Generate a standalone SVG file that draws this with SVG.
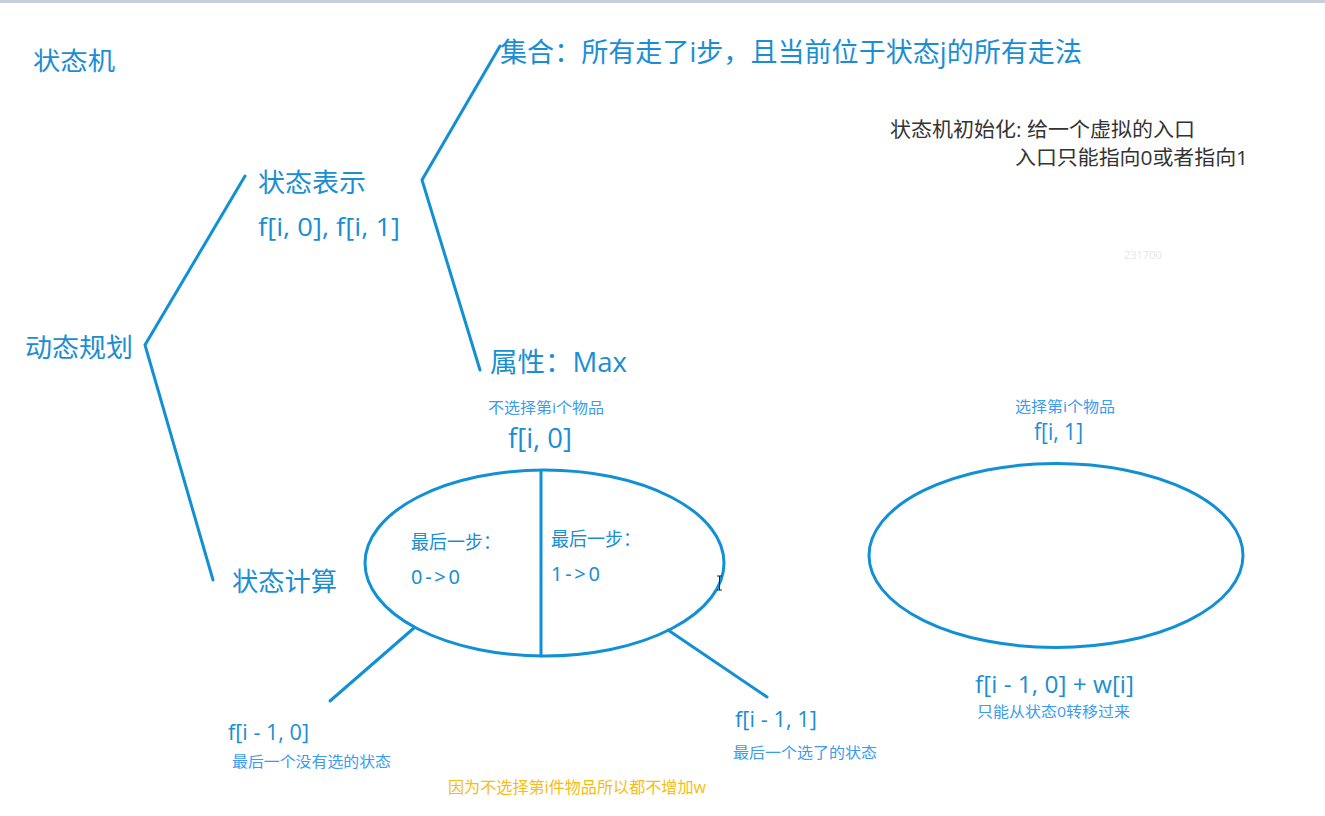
<svg xmlns="http://www.w3.org/2000/svg" width="1325" height="816" viewBox="0 0 1325 816">
<style>
text{font-family:"Open Sans","Noto Sans CJK SC",sans-serif}
.b{fill:#1b8ed3}
.s{fill:#3a9bf0;font-size:15px}
.ln{stroke:#1290d6;stroke-width:3;fill:none;stroke-linecap:round}
.d{font-family:"Noto Sans","Noto Sans CJK SC",sans-serif}
</style>
<rect x="0" y="0" width="1325" height="3" fill="#c5d0dc"/>
<g id="connectors">
<polyline class="ln" points="500,46 422,180 480,370"/>
<polyline class="ln" points="245,176 145,345 213,580"/>
<line class="ln" x1="414" y1="628" x2="330" y2="701"/>
<line class="ln" x1="668" y1="630" x2="767" y2="697"/>
</g>
<g id="title"><text class="b" x="33" y="70" font-size="25" textLength="82" lengthAdjust="spacingAndGlyphs">状态机</text></g>
<g id="set"><text class="b" x="500" y="62" font-size="27" textLength="582" lengthAdjust="spacingAndGlyphs">集合：所有走了i步，且当前位于状态j的所有走法</text></g>
<g id="repr"><text class="b" x="258" y="192" font-size="26" textLength="108" lengthAdjust="spacingAndGlyphs">状态表示</text><text class="b" x="258" y="236" font-size="25" textLength="142" lengthAdjust="spacingAndGlyphs">f[i, 0], f[i, 1]</text></g>
<g id="dp"><text class="b" x="25" y="357" font-size="26" textLength="108" lengthAdjust="spacingAndGlyphs">动态规划</text></g>
<g id="attr"><text class="b" x="490" y="372" font-size="27" textLength="137" lengthAdjust="spacingAndGlyphs">属性：Max</text></g>
<g id="calc"><text class="b" x="232" y="591" font-size="26" textLength="105" lengthAdjust="spacingAndGlyphs">状态计算</text></g>
<g id="init"><text x="890" y="137" font-size="20" fill="#333" textLength="305" lengthAdjust="spacingAndGlyphs">状态机初始化: 给一个虚拟的入口</text><text x="1015" y="165" font-size="20" fill="#333" textLength="233" lengthAdjust="spacingAndGlyphs">入口只能指向0或者指向1</text></g>
<g id="wm"><text x="1124" y="259" font-size="11" fill="#e6e6e6">231700</text></g>
<g id="state0">
<text class="s" x="488" y="413" textLength="116" lengthAdjust="spacingAndGlyphs">不选择第i个物品</text>
<text class="b" x="508" y="448" font-size="27" textLength="64" lengthAdjust="spacingAndGlyphs">f[i, 0]</text>
<ellipse class="ln" cx="544.5" cy="563" rx="179.5" ry="93"/>
<line class="ln" x1="541" y1="472" x2="541" y2="656"/>
<text class="b" x="411" y="549" font-size="19" textLength="90" lengthAdjust="spacingAndGlyphs">最后一步：</text>
<text class="b d" x="411" y="584" font-size="20" textLength="49" lengthAdjust="spacing">0-&gt;0</text>
<text class="b" x="551" y="546" font-size="19" textLength="90" lengthAdjust="spacingAndGlyphs">最后一步：</text>
<text class="b d" x="551" y="581" font-size="20" textLength="49" lengthAdjust="spacing">1-&gt;0</text>
</g>
<g id="state1">
<text class="s" x="1015" y="412" font-size="16" textLength="100" lengthAdjust="spacingAndGlyphs">选择第i个物品</text>
<text class="b" x="1034" y="440" font-size="23" textLength="49" lengthAdjust="spacingAndGlyphs">f[i, 1]</text>
<ellipse class="ln" cx="1056" cy="555.5" rx="187" ry="92"/>
</g>
<g id="prev0"><text class="b" x="228" y="740" font-size="21" textLength="81" lengthAdjust="spacingAndGlyphs">f[i - 1, 0]</text><text class="s" x="232" y="767" font-size="16" textLength="159" lengthAdjust="spacingAndGlyphs">最后一个没有选的状态</text></g>
<g id="prev1"><text class="b" x="735" y="727" font-size="21" textLength="82" lengthAdjust="spacingAndGlyphs">f[i - 1, 1]</text><text class="s" x="733" y="758" font-size="16" textLength="144" lengthAdjust="spacingAndGlyphs">最后一个选了的状态</text></g>
<g id="trans"><text class="b" x="975" y="693" font-size="23" textLength="159" lengthAdjust="spacingAndGlyphs">f[i - 1, 0] + w[i]</text><text class="s" x="977" y="717" font-size="16" textLength="153" lengthAdjust="spacingAndGlyphs">只能从状态0转移过来</text></g>
<g id="note"><text x="448" y="793" font-size="16" fill="#f5bd10" textLength="258" lengthAdjust="spacingAndGlyphs">因为不选择第i件物品所以都不增加w</text></g>
<path d="M717,576h5M719.5,576v14M717,590h5" stroke="#222" stroke-width="1" fill="none"/>
</svg>
